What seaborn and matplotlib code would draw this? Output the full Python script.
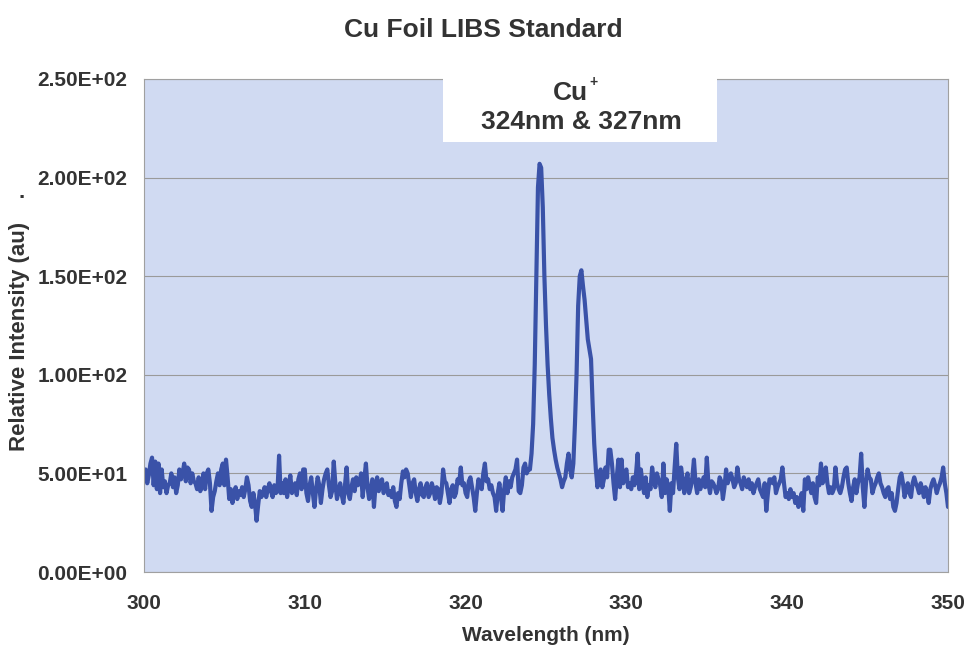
import numpy as np
import pandas as pd
import matplotlib
matplotlib.use("Agg")
import matplotlib.pyplot as plt
from matplotlib.patches import Rectangle
import seaborn as sns

wl_start, wl_stop, wl_step = 300.0, 350.0, 0.1
intensity = [
    47, 52, 45, 49, 55, 58, 44, 56, 42, 55,   # 300
    40, 52, 43, 46, 40, 44, 45, 50, 43, 48,   # 301
    40, 44, 52, 47, 50, 55, 46, 53, 52, 45,   # 302
    50, 46, 45, 42, 48, 41, 44, 50, 42, 50,   # 303
    52, 45, 31, 38, 41, 46, 50, 44, 52, 55,   # 304
    44, 57, 48, 37, 42, 35, 40, 43, 37, 41,   # 305
    39, 43, 38, 42, 48, 44, 36, 33, 40, 35,   # 306
    26, 34, 41, 38, 40, 43, 38, 42, 45, 41,   # 307
    38, 44, 40, 41, 59, 40, 45, 40, 47, 38,   # 308
    44, 49, 40, 42, 45, 39, 47, 50, 42, 52,   # 309
    52, 40, 36, 44, 48, 40, 33, 42, 48, 44,   # 310
    35, 42, 47, 50, 52, 44, 38, 41, 56, 45,   # 311
    37, 41, 45, 39, 35, 44, 53, 40, 37, 43,   # 312
    47, 41, 48, 44, 45, 50, 38, 47, 55, 43,   # 313
    37, 42, 47, 33, 44, 48, 41, 45, 47, 40,   # 314
    42, 45, 39, 41, 38, 43, 36, 33, 40, 37,   # 315
    45, 51, 48, 52, 50, 44, 38, 45, 47, 40,   # 316
    36, 42, 45, 39, 38, 43, 45, 38, 40, 45,   # 317
    42, 37, 43, 42, 35, 40, 52, 46, 45, 40,   # 318
    35, 42, 44, 38, 40, 47, 45, 53, 44, 45,   # 319
    40, 38, 46, 48, 43, 38, 31, 40, 47, 44,   # 320
    42, 50, 55, 46, 47, 42, 44, 40, 38, 31,   # 321
    40, 45, 38, 31, 42, 48, 40, 46, 43, 48,   # 322
    50, 52, 57, 41, 40, 44, 53, 55, 50, 52,   # 323
    52, 60, 75, 105, 150, 195, 207, 205, 185, 150,  # 324
    125, 105, 90, 78, 68, 62, 57, 53, 50, 47,       # 325
    43, 46, 48, 55, 60, 52, 48, 55, 75, 100,        # 326
    135, 150, 153, 145, 138, 128, 118, 113, 108, 85, # 327
    65, 52, 43, 50, 52, 43, 47, 53, 48, 62,   # 328
    62, 55, 45, 37, 48, 57, 43, 57, 45, 50,   # 329
    52, 43, 45, 42, 48, 44, 50, 60, 42, 52,   # 330
    45, 40, 48, 38, 44, 42, 53, 47, 43, 50,   # 331
    47, 44, 38, 55, 40, 47, 43, 31, 45, 40,   # 332
    53, 65, 48, 42, 53, 47, 40, 46, 50, 40,   # 333
    43, 48, 57, 45, 40, 47, 42, 45, 48, 43,   # 334
    58, 45, 40, 46, 45, 43, 40, 42, 48, 46,   # 335
    37, 43, 52, 45, 48, 50, 47, 43, 45, 53,   # 336
    47, 45, 42, 48, 45, 43, 47, 42, 45, 40,   # 337
    43, 45, 47, 42, 40, 38, 45, 31, 40, 47,   # 338
    47, 45, 48, 40, 43, 45, 47, 53, 45, 38,   # 339
    40, 37, 42, 38, 40, 35, 38, 33, 36, 40,   # 340
    31, 47, 42, 48, 44, 40, 45, 38, 35, 48,   # 341
    44, 55, 45, 47, 53, 45, 40, 43, 40, 42,   # 342
    53, 45, 42, 40, 43, 48, 52, 53, 45, 40,   # 343
    36, 43, 47, 40, 45, 48, 60, 43, 33, 45,   # 344
    52, 48, 47, 40, 43, 45, 48, 50, 45, 43,   # 345
    40, 38, 42, 43, 37, 40, 33, 31, 35, 42,   # 346
    48, 50, 45, 38, 42, 45, 40, 38, 45, 48,   # 347
    45, 43, 40, 45, 42, 38, 43, 40, 35, 42,   # 348
    45, 47, 44, 40, 43, 45, 48, 53, 45, 40,   # 349
    33,                                       # 350
]
x_ticks = [300, 310, 320, 330, 340, 350]
y_ticks = [0, 50, 100, 150, 200, 250]

wavelength = np.round(np.arange(wl_start, wl_stop + wl_step / 2, wl_step), 1)
df = pd.DataFrame({"Wavelength": wavelength, "Intensity": intensity})

sns.set_style("white")
plt.rcParams["font.family"] = ["Liberation Sans", "DejaVu Sans"]

txt = "#333333"
fig = plt.figure(figsize=(9.69, 6.49), dpi=100)
ax = fig.add_axes([144 / 969, 1 - 572 / 649, 804 / 969, 493 / 649])
ax.set_facecolor("#d0daf2")

sns.lineplot(data=df, x="Wavelength", y="Intensity", ax=ax,
             color="#3a52a8", linewidth=3.0)

ax.set_xlim(300, 350)
ax.set_ylim(0, 250)
ax.set_xticks(x_ticks)
ax.set_yticks(y_ticks)
ax.set_yticklabels([f"{v:.2E}" for v in y_ticks])
ax.yaxis.grid(True, color="#9a9a9a", linewidth=0.8)
ax.set_axisbelow(True)
for s in ax.spines.values():
    s.set_color("#a0a0a0")
    s.set_linewidth(0.8)
ax.tick_params(axis="both", direction="out", length=4, width=0.8,
               color="#a0a0a0", labelsize=15, labelcolor=txt)
ax.tick_params(axis="y", pad=8)
ax.tick_params(axis="x", pad=12)
for lab in ax.get_xticklabels() + ax.get_yticklabels():
    lab.set_fontweight("bold")

ax.set_xlabel("Wavelength (nm)", fontsize=15, fontweight="bold", color=txt)
ax.set_ylabel("Relative Intensity (au)", fontsize=16, fontweight="bold", color=txt)
ax.xaxis.set_label_coords(0.5, -0.11)
ax.yaxis.set_label_coords(-0.142, 0.477)

fig.text(0.499, 1 - 30 / 649, "Cu Foil LIBS Standard", ha="center", va="center",
         fontsize=19, fontweight="bold", color=txt)
fig.text(22 / 969, 1 - 192 / 649, ".", ha="center", va="center",
         fontsize=16, fontweight="bold", color=txt)

# white label box over the top of the plot
box = Rectangle((0.372, 0.872), 0.341, 0.133, transform=ax.transAxes,
                facecolor="white", edgecolor="none", clip_on=False, zorder=5)
ax.add_patch(box)
ax.text(0.531, 0.9716, "Cu", transform=ax.transAxes, ha="center", va="center",
        fontsize=19, fontweight="bold", color=txt, zorder=6)
ax.text(0.5585, 0.993, "+", transform=ax.transAxes, ha="center", va="center",
        fontsize=10, fontweight="bold", color=txt, zorder=6)
ax.text(0.5435, 0.912, "324nm & 327nm", transform=ax.transAxes, ha="center",
        va="center", fontsize=19, fontweight="bold", color=txt, zorder=6)

fig.savefig("out.png", dpi=100, facecolor="white")
